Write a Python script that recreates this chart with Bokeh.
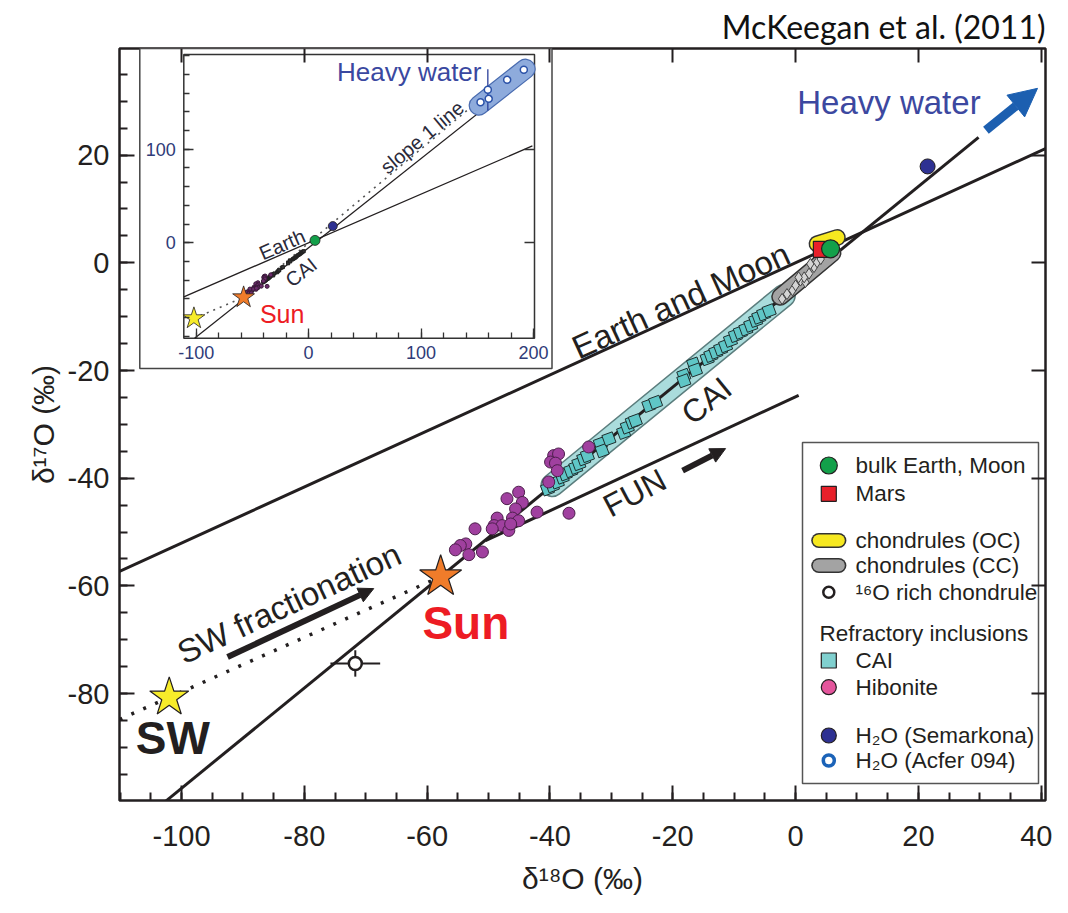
import math
from bokeh.plotting import figure
from bokeh.models import (Range1d, LinearAxis, SingleIntervalTicker, FixedTicker,
                          Label, Arrow, NormalHead, CustomJSTickFormatter, PrintfTickFormatter)
from bokeh.embed import file_html
from bokeh.resources import INLINE

# ---------------- data: main panel (delta-18O, delta-17O in permil) ----------------
TFL_X = [-110.1, 40.7]            # terrestrial fractionation line (Earth and Moon)
TFL_Y = [-57.3, 21.2]
CCAM_X = [-102.6, 29.8]           # slope ~1 mixing line
CCAM_Y = [-100.0, 23.3]
FUN_X = [-50.5, 0.5]
FUN_Y = [-51.6, -24.6]
SWF_X = [-110.1, -102.0, -57.8]   # SW fractionation (dotted)
SWF_Y = [-84.8, -80.7, -58.3]

SW_X, SW_Y = [-102.0], [-80.7]
SUN_X, SUN_Y = [-57.8], [-58.3]
EARTH_X, EARTH_Y = [5.7], [2.6]
MARS_X, MARS_Y = [4.2], [2.5]
SEMARKONA_X, SEMARKONA_Y = [21.5], [17.9]
O16_X, O16_Y = [-71.7], [-74.4]
O16_XERR, O16_YERR = [4.05], [2.45]

CAI_X = [-40.4, -39.6, -38.8, -38.0, -37.5, -36.6, -35.8, -35.3, -34.5, -33.9, -31.8, -31.5,
         -30.4, -28.0, -27.4, -26.6, -26.1, -23.9, -22.8, -18.2, -18.2, -16.6, -16.3, -14.4,
         -13.8, -13.0, -12.2, -11.4, -10.6, -9.8, -9.0, -8.1, -7.3, -6.5, -6.0, -5.2, -4.3]
CAI_Y = [-42.0, -41.4, -40.7, -39.8, -39.2, -38.6, -38.0, -37.3, -36.4, -35.8, -33.6, -34.9,
         -32.7, -31.5, -30.5, -29.6, -29.3, -26.5, -25.9, -20.9, -21.9, -18.8, -19.9, -17.8,
         -17.2, -16.6, -16.0, -15.4, -14.4, -13.5, -12.9, -12.3, -11.6, -10.7, -10.1, -9.5, -8.9]

HIB_X = [-39.4, -38.6, -39.9, -39.1, -38.8, -40.2, -45.1, -47.0, -44.5, -45.6, -42.1, -36.9,
         -46.1, -45.1, -48.6, -49.1, -47.8, -46.7, -49.4, -46.4, -52.2, -53.7, -54.6, -55.4,
         -53.2, -51.0, -33.7]
HIB_Y = [-35.8, -35.5, -37.0, -37.2, -38.6, -40.7, -42.6, -43.8, -44.5, -45.7, -46.3, -46.5,
         -47.4, -47.9, -47.4, -48.8, -48.8, -49.7, -49.4, -48.5, -49.4, -52.2, -52.5, -53.3,
         -54.2, -53.7, -34.2]

CC_X = [-2.2, -1.4, -0.5, 0.0, 0.8, 1.6, 1.4, 0.5, 2.2, 3.0, 2.4, 3.5, 4.1]
CC_Y = [-6.7, -5.8, -5.1, -4.2, -3.3, -3.6, -2.7, -2.7, -2.0, -0.8, -0.2, 0.1, 0.7]

CAI_ZONE_X, CAI_ZONE_Y = [-39.6, -1.9], [-41.3, -6.1]
CC_ZONE_X, CC_ZONE_Y = [-2.5, 6.0], [-6.3, 1.8]
OC_ZONE_X, OC_ZONE_Y = [3.5, 6.8], [3.5, 4.7]

ARROW_HW = [31.0, 24.6, 39.4, 32.4]      # x0, y0, x1, y1
ARROW_SWF = [-92.5, -73.2, -68.7, -60.5]
ARROW_FUN = [-18.4, -38.6, -11.4, -34.5]

# ---------------- data: inset ----------------
IN_TFL_X, IN_TFL_Y = [-111.0, 199.0], [-57.7, 103.5]
IN_LINE_X, IN_LINE_Y = [-101.4, 198.7], [-101.9, 184.1]
IN_SLOPE1_X = [-102.0, -57.8, 195.7]
IN_SLOPE1_Y = [-80.7, -58.3, 196.6]
ACFER_X = [152.9, 160.2, 159.4, 176.6, 191.4]
ACFER_Y = [150.2, 153.8, 163.5, 174.1, 184.8]
ACFER_YERR = [0.0, 0.0, 22.0, 0.0, 0.0]
HW_ZONE_X, HW_ZONE_Y = [151.4, 192.9], [146.7, 185.9]

X_TICK_STEP = 20
INSET_X_TICKS = [-100, 0, 100, 200]
INSET_Y_TICKS = [0, 100]

LEGEND_LABELS = ["bulk Earth, Moon", "Mars", "chondrules (OC)", "chondrules (CC)",
                 "\u00b9\u2076O rich chondrule", "Refractory inclusions", "CAI", "Hibonite",
                 "H\u2082O (Semarkona)", "H\u2082O (Acfer 094)"]

# ---------------- layout (reference pixel geometry) ----------------
W, H = 1052, 897
FL, FR, FT, FB = 119, 1045, 48, 800          # main frame in page px
X0, X1 = -110.1, 40.7
Y0, Y1 = -99.85, 39.8
IL, IT, IR, IB = 183.3, 54.0, 534.0, 337.7   # inset frame in page px
IX0, IX1 = -111.0, 200.9
IY0, IY1 = -101.9, 201.2

FONT = "Liberation Sans"
DARK = "#231f20"

p = figure(width=W, height=H, x_range=Range1d(X0, X1), y_range=Range1d(Y0, Y1),
           output_backend="svg", toolbar_location=None,
           min_border_left=FL, min_border_top=FT,
           min_border_right=W - FR, min_border_bottom=H - FB)
p.grid.visible = False
p.background_fill_color = "white"
p.border_fill_color = "white"
p.outline_line_color = DARK
p.outline_line_width = 2.5

p.title.text = "McKeegan et al. (2011)"
p.title.align = "right"
p.title.text_font = "Lato"
p.title.text_font_size = "32px"
p.title.text_font_style = "normal"
p.title.text_color = "#111111"
p.title.vertical_align = "middle"
p.title.standoff = 4

sx = (IR - IL) / (IX1 - IX0)
sy = (IB - IT) / (IY1 - IY0)
p.extra_x_ranges = {"ix": Range1d(IX0 - (IL - FL) / sx, IX1 + (FR - IR) / sx),
                    "px": Range1d(FL, FR)}
p.extra_y_ranges = {"iy": Range1d(IY0 - (FB - IB) / sy, IY1 + (IT - FT) / sy),
                    "py": Range1d(FB, FT)}
INS = dict(x_range_name="ix", y_range_name="iy")
PXL = dict(x_range_name="px", y_range_name="py")

# ---------------- main axes ----------------
xa = p.below[0]
ya = p.left[0]
for ax in (xa, ya):
    ax.ticker = SingleIntervalTicker(interval=X_TICK_STEP, num_minor_ticks=4)
    ax.formatter = PrintfTickFormatter(format="%d")
    ax.axis_line_color = None
    ax.major_tick_in, ax.major_tick_out = 15, 0
    ax.minor_tick_in, ax.minor_tick_out = 8, 0
    ax.major_tick_line_width = 2
    ax.minor_tick_line_width = 2
    ax.major_tick_line_color = DARK
    ax.minor_tick_line_color = DARK
    ax.major_label_text_font = FONT
    ax.major_label_text_font_size = "29px"
    ax.major_label_text_color = DARK
    ax.axis_label_text_font = FONT
    ax.axis_label_text_font_size = "30px"
    ax.axis_label_text_font_style = "normal"
    ax.axis_label_text_color = DARK
xa.major_label_standoff = 25
xa.axis_label_standoff = 13
ya.major_label_standoff = 10
ya.axis_label_standoff = 5
xa.axis_label = "\u03b4\u00b9\u2078O (\u2030)"
ya.axis_label = "\u03b4\u00b9\u2077O (\u2030)"

blank = CustomJSTickFormatter(code="return ''")
top_ax = LinearAxis(fixed_location=Y1, ticker=SingleIntervalTicker(interval=X_TICK_STEP),
                    formatter=blank, axis_line_color=None, major_tick_in=14, major_tick_out=0,
                    major_tick_line_width=2, major_tick_line_color=DARK, minor_tick_line_color=None)
p.add_layout(top_ax, "above")
right_ax = LinearAxis(fixed_location=X1, ticker=SingleIntervalTicker(interval=X_TICK_STEP),
                      formatter=blank, axis_line_color=None, major_tick_in=14, major_tick_out=0,
                      major_tick_line_width=2, major_tick_line_color=DARK, minor_tick_line_color=None)
p.add_layout(right_ax, "right")


def capsule(xs, ys, width, fill, edge, edge_w=1.5, **kw):
    p.line(xs, ys, line_width=width + 2 * edge_w, line_color=edge, line_cap="round", **kw)
    p.line(xs, ys, line_width=width, line_color=fill, line_cap="round", **kw)


# ---------------- main panel marks ----------------
p.line(TFL_X, TFL_Y, line_color=DARK, line_width=3)
p.line(FUN_X, FUN_Y, line_color=DARK, line_width=3)
p.line(SWF_X, SWF_Y, line_color=DARK, line_width=3.5, line_dash="3 10")
capsule(CAI_ZONE_X, CAI_ZONE_Y, 21, "#aadcdc", "#5b7d7d")
p.line(CCAM_X, CCAM_Y, line_color=DARK, line_width=3)
p.scatter(CAI_X, CAI_Y, marker="square", size=11, angle=0.35, fill_color="#5fc6c6",
          line_color="#1e2e2e", line_width=1)
capsule(CC_ZONE_X, CC_ZONE_Y, 15, "#a3a3a3", "#333333")
p.scatter(CC_X, CC_Y, marker="diamond", size=11, fill_color="#d4d4d4", line_color="#444444",
          line_width=1)
capsule(OC_ZONE_X, OC_ZONE_Y, 14, "#f6e820", "#333333")
p.scatter(MARS_X, MARS_Y, marker="square", size=16, fill_color="#e8202a", line_color=DARK,
          line_width=1.2)
p.scatter(EARTH_X, EARTH_Y, marker="circle", size=18, fill_color="#13a04a", line_color=DARK,
          line_width=1.2)
p.scatter(HIB_X, HIB_Y, marker="circle", size=12, fill_color="#a0409f", line_color="#4d1f4c",
          line_width=1)
p.scatter(SEMARKONA_X, SEMARKONA_Y, marker="circle", size=15, fill_color="#2e3192",
          line_color=DARK, line_width=1)
p.segment([x - e for x, e in zip(O16_X, O16_XERR)], O16_Y,
          [x + e for x, e in zip(O16_X, O16_XERR)], O16_Y, line_color=DARK, line_width=2)
p.segment(O16_X, [y - e for y, e in zip(O16_Y, O16_YERR)],
          O16_X, [y + e for y, e in zip(O16_Y, O16_YERR)], line_color=DARK, line_width=2)
p.scatter(O16_X, O16_Y, marker="circle", size=13, fill_color="white", line_color=DARK,
          line_width=2.5)
p.scatter(SW_X, SW_Y, marker="star", size=41, fill_color="#f7ec2a", line_color=DARK,
          line_width=1.2)
p.scatter(SUN_X, SUN_Y, marker="star", size=44, fill_color="#f07c2a", line_color=DARK,
          line_width=1.2)

BLUE = "#1c5fb0"
p.add_layout(Arrow(end=NormalHead(size=28, fill_color=BLUE, line_color=BLUE),
                   x_start=ARROW_HW[0], y_start=ARROW_HW[1], x_end=ARROW_HW[2], y_end=ARROW_HW[3],
                   line_color=BLUE, line_width=9))
for a in (ARROW_SWF, ARROW_FUN):
    p.add_layout(Arrow(end=NormalHead(size=15, fill_color=DARK, line_color=DARK),
                       x_start=a[0], y_start=a[1], x_end=a[2], y_end=a[3],
                       line_color=DARK, line_width=6))


def lab(text, x, y, size, angle=0.0, color=DARK, bold=False, font=FONT, align="center", **kw):
    p.add_layout(Label(x=x, y=y, text=text, angle=angle, angle_units="deg",
                       text_align=align, text_baseline="middle", text_font=font,
                       text_font_size=f"{size}px", text_color=color,
                       text_font_style="bold" if bold else "normal", **kw))


lab("Earth and Moon", -18.7, -7.0, 33, 24.5)
lab("CAI", -14.5, -25.6, 32, 39.3)
lab("FUN", -26.2, -42.7, 32, 28)
lab("SW fractionation", -82.5, -63.2, 33, 25)
lab("Sun", -53.7, -66.9, 46, color="#ed1c24", bold=True)
lab("SW", -101.4, -88.3, 46, bold=True)
lab("Heavy water", 15.2, 29.8, 33, color="#3c48a0")

# ---------------- inset ----------------
p.quad(left=139.3, right=551.5, top=FT, bottom=368, fill_color="white", line_color="#444444",
       line_width=1.5, **PXL)
p.quad(left=IX0, right=IX1, bottom=IY0, top=IY1, fill_color=None, line_color="#333333",
       line_width=1.5, **INS)
p.line(IN_TFL_X, IN_TFL_Y, line_color=DARK, line_width=1.3, **INS)
p.line(IN_LINE_X, IN_LINE_Y, line_color=DARK, line_width=1.3, **INS)
p.line(IN_SLOPE1_X, IN_SLOPE1_Y, line_color="#555555", line_width=1.6, line_dash="2 5", **INS)
capsule(HW_ZONE_X, HW_ZONE_Y, 18, "#8eabdc", "#4a6cb0", 1.2, **INS)
p.segment(ACFER_X, [y - e for y, e in zip(ACFER_Y, ACFER_YERR)],
          ACFER_X, [y + e for y, e in zip(ACFER_Y, ACFER_YERR)], line_color="#2b3f9a",
          line_width=1.3, **INS)
p.scatter(ACFER_X, ACFER_Y, marker="circle", size=7, fill_color="white", line_color="#2b52a8",
          line_width=1.5, **INS)
p.scatter(CAI_X, CAI_Y, marker="square", size=3, fill_color="#333333", line_color="#222222", **INS)
p.scatter(HIB_X, HIB_Y, marker="circle", size=4, fill_color="#6b2b6b", line_color="#3a1a3a", **INS)
p.scatter(SEMARKONA_X, SEMARKONA_Y, marker="circle", size=9, fill_color="#2e3192",
          line_color=DARK, line_width=0.8, **INS)
p.scatter(EARTH_X, EARTH_Y, marker="circle", size=10, fill_color="#13a04a", line_color=DARK,
          line_width=0.8, **INS)
p.scatter(SW_X, SW_Y, marker="star", size=23, fill_color="#f7ec2a", line_color=DARK,
          line_width=0.8, **INS)
p.scatter(SUN_X, SUN_Y, marker="star", size=23, fill_color="#f07c2a", line_color=DARK,
          line_width=0.8, **INS)

INAV = "#2f3b78"
ix_ax = LinearAxis(fixed_location=IY0, bounds=(IX0, IX1),
                   ticker=FixedTicker(ticks=INSET_X_TICKS,
                                      minor_ticks=list(range(-100, 201, 20))), **INS)
iy_ax = LinearAxis(fixed_location=IX0, bounds=(IY0, IY1),
                   ticker=FixedTicker(ticks=INSET_Y_TICKS,
                                      minor_ticks=list(range(-100, 201, 20))), **INS)
for ax in (ix_ax, iy_ax):
    ax.formatter = PrintfTickFormatter(format="%d")
    ax.axis_line_color = None
    ax.major_tick_in, ax.major_tick_out = 10, 0
    ax.minor_tick_in, ax.minor_tick_out = 6, 0
    ax.major_tick_line_color = "#333333"
    ax.minor_tick_line_color = "#333333"
    ax.major_tick_line_width = 1.3
    ax.minor_tick_line_width = 1.3
    ax.major_label_text_font = FONT
    ax.major_label_text_font_size = "18px"
    ax.major_label_text_color = INAV
    ax.major_label_standoff = 8
p.add_layout(ix_ax, "below")
p.add_layout(iy_ax, "left")
ir_ax = LinearAxis(fixed_location=IX1, bounds=(IY0, IY1), ticker=FixedTicker(ticks=INSET_Y_TICKS),
                   formatter=blank, axis_line_color=None, major_tick_in=10, major_tick_out=0,
                   major_tick_line_color="#333333", major_tick_line_width=1.3,
                   minor_tick_line_color=None, **INS)
p.add_layout(ir_ax, "right")

lab("Heavy water", 89.5, 182.3, 26, color="#3a48a0", **INS)
lab("slope 1 line", 101.0, 112.8, 20, 39.8, color="#2a2a3a", **INS)
lab("Earth", -23.5, -1.8, 20, 23.4, color="#2a2a3a", **INS)
lab("CAI", -6.6, -31.4, 20, 38, color="#2a2a3a", **INS)
lab("Sun", -23.5, -75.9, 25, color="#ed1c24", **INS)

# ---------------- legend (drawn in page-pixel coordinates) ----------------
p.quad(left=802, right=1038, top=442, bottom=783, fill_color="white", line_color="#555555",
       line_width=1.5, **PXL)
MX, TX = 828.3, 855
ROWS = [465, 493.3, 540, 565, 591.7, 633.3, 660, 686.7, 735, 760]
p.scatter([MX], [ROWS[0]], marker="circle", size=17, fill_color="#13a04a", line_color=DARK,
          line_width=1.2, **PXL)
p.scatter([MX], [ROWS[1]], marker="square", size=15, fill_color="#e8202a", line_color=DARK,
          line_width=1.2, **PXL)
capsule([MX - 10, MX + 10], [ROWS[2], ROWS[2]], 12, "#f6e820", "#333333", 1.6, **PXL)
capsule([MX - 10, MX + 10], [ROWS[3], ROWS[3]], 12, "#a3a3a3", "#333333", 1.6, **PXL)
p.scatter([MX], [ROWS[4]], marker="circle", size=11, fill_color="white", line_color=DARK,
          line_width=2.5, **PXL)
p.scatter([MX], [ROWS[6]], marker="square", size=15, fill_color="#80d0cf", line_color=DARK,
          line_width=1.2, **PXL)
p.scatter([MX], [ROWS[7]], marker="circle", size=15, fill_color="#e4559c", line_color=DARK,
          line_width=1.2, **PXL)
p.scatter([MX], [ROWS[8]], marker="circle", size=15, fill_color="#2e3192", line_color=DARK,
          line_width=1.2, **PXL)
p.scatter([MX], [ROWS[9]], marker="circle", size=11, fill_color="white", line_color="#1b63b8",
          line_width=3.5, **PXL)
for i, t in enumerate(LEGEND_LABELS):
    x = 819 if i == 5 else TX
    lab(t, x, ROWS[i], 22.5, align="left", **PXL)

open("out.html", "w").write(file_html(p, INLINE))
